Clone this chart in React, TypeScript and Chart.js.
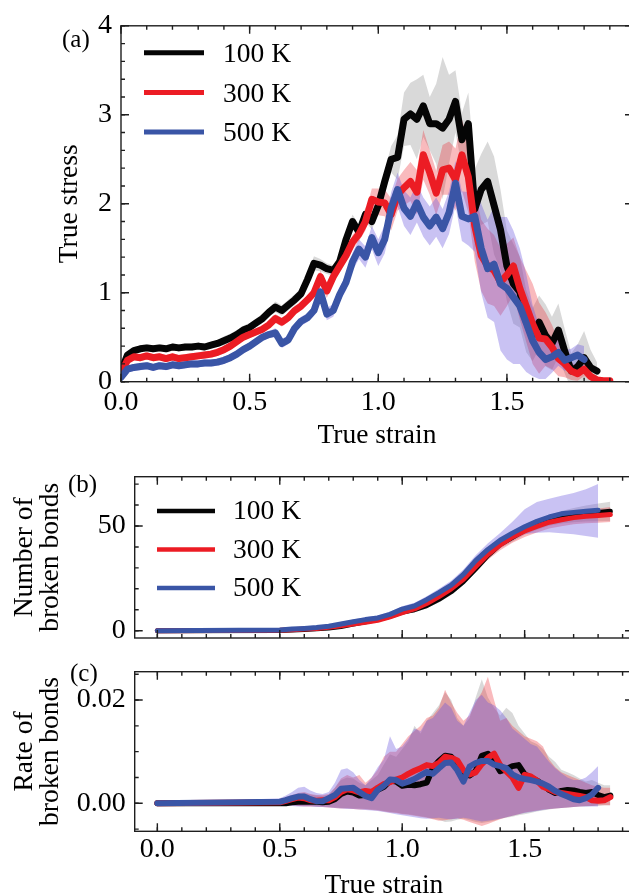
import React, { useEffect, useRef } from 'react';
import { Chart, registerables } from 'chart.js';
Chart.register(...registerables);

// ---------------- data ----------------
const TEMPS = ['100 K', '300 K', '500 K'];
const X_TICKS = [0, 0.5, 1.0, 1.5];
const Y_TICKS_A = [0, 1, 2, 3, 4];
const Y_TICKS_B = [0, 50];
const Y_TICKS_C = [0, 0.02];

// panel (a): true stress vs true strain
const strainA = [
  0, 0.025, 0.05, 0.075, 0.1, 0.125, 0.15, 0.175, 0.2, 0.225,
  0.25, 0.275, 0.3, 0.325, 0.35, 0.375, 0.4, 0.425, 0.45, 0.475,
  0.5, 0.525, 0.55, 0.575, 0.6, 0.625, 0.65, 0.675, 0.7, 0.725,
  0.75, 0.775, 0.8, 0.825, 0.85, 0.875, 0.9, 0.925, 0.95, 0.975,
  1.0, 1.025, 1.05, 1.075, 1.1, 1.125, 1.15, 1.175, 1.2, 1.225,
  1.25, 1.275, 1.3, 1.325, 1.35, 1.375, 1.4, 1.425, 1.45, 1.475,
  1.5, 1.525, 1.55, 1.575, 1.6, 1.625, 1.65, 1.675, 1.7, 1.725,
  1.75, 1.775, 1.8, 1.825, 1.85, 1.875, 1.9,
];
const stress100 = [
  0.12, 0.30, 0.35, 0.37, 0.38, 0.37, 0.38, 0.37, 0.39, 0.38,
  0.39, 0.39, 0.40, 0.39, 0.41, 0.43, 0.46, 0.49, 0.53, 0.58,
  0.61, 0.66, 0.71, 0.78, 0.84, 0.80, 0.86, 0.92, 0.99, 1.15,
  1.33, 1.31, 1.27, 1.25, 1.35, 1.60, 1.80, 1.68, 1.88, 1.80,
  1.98, 2.25, 2.50, 2.52, 2.95, 3.01, 2.95, 3.10, 2.90, 2.90,
  2.85, 2.95, 3.15, 2.72, 2.90, 1.94, 2.16, 2.25, 1.98, 1.71,
  1.30, 1.10, 1.01, 0.68, 0.53, 0.67, 0.52, 0.43, 0.58, 0.34,
  0.12, 0.17, 0.27, 0.16, 0.12, null, null,
];
const stress300 = [
  0.10, 0.24, 0.28, 0.27, 0.29, 0.27, 0.28, 0.26, 0.28, 0.26,
  0.27, 0.28, 0.29, 0.30, 0.31, 0.33, 0.36, 0.40, 0.45, 0.50,
  0.53, 0.56, 0.59, 0.64, 0.71, 0.67, 0.72, 0.80, 0.85, 0.92,
  1.00, 1.18, 1.02, 1.18, 1.30, 1.42, 1.57, 1.66, 1.80, 2.05,
  2.02, 2.01, 1.88, 2.10, 2.18, 2.25, 2.13, 2.55, 2.35, 2.12,
  2.38, 2.40, 2.27, 2.55, 2.30, 1.75, 1.42, 1.30, 1.25, 1.12,
  1.20, 1.30, 1.05, 0.85, 0.65, 0.49, 0.48, 0.39, 0.26, 0.20,
  0.12, 0.09, 0.14, 0.06, 0.02, 0.01, 0.01,
];
const stress500 = [
  0.05, 0.14, 0.16, 0.17, 0.18, 0.16, 0.18, 0.17, 0.19, 0.18,
  0.19, 0.20, 0.20, 0.21, 0.21, 0.22, 0.24, 0.27, 0.31, 0.36,
  0.40, 0.45, 0.50, 0.53, 0.55, 0.43, 0.47, 0.60, 0.68, 0.72,
  0.80, 1.01, 0.76, 0.80, 0.98, 1.12, 1.35, 1.49, 1.40, 1.62,
  1.45, 1.60, 1.95, 2.16, 1.95, 1.86, 2.01, 1.85, 1.75, 1.85,
  1.72, 1.90, 2.23, 1.86, 1.83, 1.86, 1.50, 1.27, 1.32, 1.10,
  1.05, 0.95, 0.85, 0.66, 0.46, 0.33, 0.25, 0.28, 0.33, 0.24,
  0.27, 0.30, 0.25, null, null, null, null,
];
const stressSpread100 = [
  0.02, 0.04, 0.04, 0.04, 0.04, 0.04, 0.04, 0.04, 0.04, 0.04,
  0.04, 0.04, 0.04, 0.04, 0.04, 0.04, 0.05, 0.05, 0.05, 0.05,
  0.05, 0.05, 0.05, 0.05, 0.06, 0.06, 0.06, 0.06, 0.06, 0.07,
  0.08, 0.07, 0.06, 0.06, 0.07, 0.08, 0.08, 0.08, 0.08, 0.09,
  0.10, 0.12, 0.15, 0.25, 0.30, 0.35, 0.45, 0.35, 0.30, 0.45,
  0.80, 0.50, 0.35, 0.30, 0.35, 0.45, 0.40, 0.45, 0.55, 0.45,
  0.40, 0.45, 0.40, 0.35, 0.30, 0.30, 0.35, 0.30, 0.30, 0.25,
  0.20, 0.25, 0.30, 0.20, 0.10, null, null,
];
const stressSpread300 = [
  0.02, 0.04, 0.04, 0.04, 0.04, 0.04, 0.04, 0.04, 0.04, 0.04,
  0.04, 0.04, 0.04, 0.04, 0.04, 0.04, 0.04, 0.04, 0.04, 0.04,
  0.04, 0.04, 0.04, 0.04, 0.05, 0.05, 0.05, 0.05, 0.05, 0.05,
  0.06, 0.07, 0.08, 0.07, 0.07, 0.07, 0.08, 0.08, 0.10, 0.12,
  0.15, 0.15, 0.18, 0.18, 0.20, 0.22, 0.25, 0.28, 0.25, 0.25,
  0.28, 0.30, 0.35, 0.40, 0.40, 0.40, 0.40, 0.42, 0.40, 0.38,
  0.35, 0.32, 0.35, 0.40, 0.45, 0.40, 0.30, 0.25, 0.20, 0.15,
  0.10, 0.08, 0.08, 0.05, 0.03, 0.02, 0.02,
];
const stressSpread500 = [
  0.02, 0.04, 0.04, 0.04, 0.04, 0.04, 0.04, 0.04, 0.04, 0.04,
  0.04, 0.04, 0.04, 0.04, 0.04, 0.04, 0.04, 0.04, 0.04, 0.04,
  0.04, 0.04, 0.04, 0.04, 0.05, 0.05, 0.05, 0.05, 0.05, 0.05,
  0.06, 0.06, 0.07, 0.07, 0.08, 0.09, 0.10, 0.11, 0.12, 0.13,
  0.15, 0.16, 0.18, 0.19, 0.20, 0.21, 0.22, 0.22, 0.22, 0.22,
  0.22, 0.24, 0.25, 0.28, 0.30, 0.40, 0.50, 0.55, 0.65, 0.75,
  0.80, 0.75, 0.65, 0.55, 0.40, 0.30, 0.22, 0.18, 0.15, 0.12,
  0.10, 0.12, 0.15, null, null, null, null,
];

// panel (b): number of broken bonds
const strainB = [
  0,
  0.5, 0.55, 0.6, 0.65, 0.7, 0.75, 0.8, 0.85, 0.9, 0.95,
  1.0, 1.05, 1.1, 1.15, 1.2, 1.25, 1.3, 1.35, 1.4, 1.45,
  1.5, 1.55, 1.6, 1.65, 1.7, 1.75, 1.8, 1.85,
];
const bonds100 = [
  0,
  0.1, 0.3, 0.6, 0.9, 1.3, 2.0, 3.2, 4.3, 5.4, 6.9,
  8.9, 10.0, 12.0, 15.0, 18.6, 23.5, 29.6, 36.0, 41.2, 44.6,
  48.0, 50.6, 52.7, 54.2, 55.2, 56.0, 56.5, 57.0,
];
const bonds300 = [
  0,
  0.2, 0.5, 0.8, 1.1, 1.6, 2.3, 3.2, 4.0, 5.0, 6.6,
  8.6, 10.4, 13.0, 16.3, 20.0, 24.6, 30.5, 36.4, 41.0, 44.8,
  47.6, 49.8, 51.8, 53.0, 54.0, 54.6, 55.0, 55.5,
];
const bonds500 = [
  0,
  0.3, 0.8, 1.1, 1.5, 2.1, 3.2, 4.3, 5.3, 6.1, 7.8,
  10.3, 11.8, 14.8, 18.2, 21.8, 26.9, 33.5, 38.8, 43.2, 46.6,
  49.6, 52.2, 54.3, 55.8, 56.5, 57.0, 57.5, null,
];
const bondsSpread100 = [
  0,
  0.2, 0.3, 0.4, 0.5, 0.6, 0.7, 0.8, 0.9, 1.0, 1.1,
  1.2, 1.3, 1.4, 1.5, 1.6, 1.7, 1.8, 1.9, 2.0, 2.1,
  2.2, 2.4, 2.6, 3.0, 3.4, 3.8, 4.2, 4.6,
];
const bondsSpread300 = [
  0,
  0.2, 0.3, 0.4, 0.5, 0.6, 0.7, 0.8, 0.9, 1.0, 1.1,
  1.2, 1.3, 1.5, 1.7, 1.9, 2.1, 2.3, 2.5, 2.6, 2.8,
  2.8, 2.9, 3.0, 3.1, 3.2, 3.3, 3.4, 3.6,
];
const bondsUp500 = [
  0,
  0.5, 0.6, 0.7, 0.7, 0.8, 0.9, 1.0, 1.1, 1.2, 1.3,
  1.4, 1.5, 1.7, 1.8, 2.0, 2.3, 2.5, 3.0, 3.4, 5.4,
  8.4, 9.3, 8.7, 8.7, 9.3, 10.5, 12.5, null,
];
const bondsDown500 = [
  0,
  0.3, 0.6, 0.7, 0.7, 0.8, 0.9, 1.0, 1.1, 1.2, 1.3,
  1.4, 1.5, 1.7, 1.8, 2.0, 2.3, 2.5, 3.0, 3.4, 3.4,
  3.4, 5.4, 7.3, 9.3, 10.5, 11.8, 13.1, null,
];

// panel (c): rate of broken bonds
const strainC = [
  0,
  0.5, 0.525, 0.55, 0.575, 0.6, 0.625, 0.65, 0.675, 0.7, 0.725,
  0.75, 0.775, 0.8, 0.825, 0.85, 0.875, 0.9, 0.925, 0.95, 0.975,
  1.0, 1.025, 1.05, 1.075, 1.1, 1.125, 1.15, 1.175, 1.2, 1.225,
  1.25, 1.275, 1.3, 1.325, 1.35, 1.375, 1.4, 1.425, 1.45, 1.475,
  1.5, 1.525, 1.55, 1.575, 1.6, 1.625, 1.65, 1.675, 1.7, 1.725,
  1.75, 1.775, 1.8, 1.825, 1.85,
];
const rate100 = [
  0,
  0.0, 0.0, 0.0002, 0.0003, 0.0003, 0.0003, 0.0003, 0.0002, 0.0003, 0.0008,
  0.0018, 0.0023, 0.0021, 0.0015, 0.0016, 0.0020, 0.0026, 0.0032, 0.0044, 0.0042,
  0.0034, 0.0036, 0.0035, 0.0037, 0.0040, 0.0068, 0.0082, 0.0092, 0.0090, 0.0078,
  0.0058, 0.0054, 0.0062, 0.0092, 0.0096, 0.0082, 0.0062, 0.0066, 0.0072, 0.0074,
  0.0056, 0.0050, 0.0044, 0.0036, 0.0026, 0.0020, 0.0024, 0.0026, 0.0025, 0.0022,
  0.0020, 0.0022, 0.0016, 0.0012, 0.0015,
];
const rate300 = [
  0,
  0.0002, 0.0005, 0.0008, 0.0011, 0.0010, 0.0006, 0.0005, 0.0006, 0.0006, 0.0012,
  0.0022, 0.0027, 0.0025, 0.0021, 0.0024, 0.0022, 0.0030, 0.0037, 0.0041, 0.0046,
  0.0050, 0.0057, 0.0063, 0.0068, 0.0074, 0.0072, 0.0078, 0.0090, 0.0088, 0.0083,
  0.0064, 0.0056, 0.0060, 0.0076, 0.0088, 0.0096, 0.0074, 0.0062, 0.0050, 0.0030,
  0.0055, 0.0052, 0.0044, 0.0032, 0.0027, 0.0022, 0.0020, 0.0018, 0.0016, 0.0014,
  0.0012, 0.0006, 0.0005, 0.0006, 0.0012,
];
const rate500 = [
  0,
  0.0003, 0.0006, 0.0010, 0.0013, 0.0013, 0.0008, 0.0004, 0.0004, 0.0010, 0.0016,
  0.0028, 0.0029, 0.0030, 0.0022, 0.0014, 0.0010, 0.0026, 0.0034, 0.0046, 0.0045,
  0.0038, 0.0042, 0.0047, 0.0054, 0.0061, 0.0057, 0.0068, 0.0078, 0.0079, 0.0064,
  0.0042, 0.0071, 0.0078, 0.0082, 0.0082, 0.0075, 0.0072, 0.0068, 0.0056, 0.0050,
  0.0047, 0.0045, 0.0042, 0.0038, 0.0032, 0.0024, 0.0018, 0.0013, 0.0008, 0.0006,
  0.0010, 0.0017, 0.0030, null, null,
];
const rateUpper100 = [
  0,
  0.0008, 0.0010, 0.0014, 0.0018, 0.0020, 0.0017, 0.0015, 0.0014, 0.0016, 0.0030,
  0.0045, 0.0050, 0.0048, 0.0040, 0.0035, 0.0045, 0.0055, 0.0075, 0.0095, 0.0090,
  0.0105, 0.0120, 0.0150, 0.0135, 0.0160, 0.0175, 0.0190, 0.0215, 0.0200, 0.0165,
  0.0150, 0.0165, 0.0205, 0.0240, 0.0205, 0.0185, 0.0170, 0.0185, 0.0175, 0.0150,
  0.0135, 0.0120, 0.0115, 0.0105, 0.0090, 0.0080, 0.0065, 0.0060, 0.0055, 0.0048,
  0.0042, 0.0045, 0.0040, 0.0035, 0.0035,
];
const rateUpper300 = [
  0,
  0.0008, 0.0012, 0.0016, 0.0020, 0.0022, 0.0018, 0.0016, 0.0016, 0.0018, 0.0030,
  0.0048, 0.0055, 0.0050, 0.0055, 0.0040, 0.0050, 0.0065, 0.0090, 0.0100, 0.0100,
  0.0115, 0.0130, 0.0140, 0.0150, 0.0165, 0.0170, 0.0185, 0.0220, 0.0195, 0.0175,
  0.0160, 0.0170, 0.0195, 0.0215, 0.0245, 0.0200, 0.0160, 0.0165, 0.0150, 0.0140,
  0.0130, 0.0125, 0.0120, 0.0110, 0.0085, 0.0070, 0.0060, 0.0055, 0.0050, 0.0045,
  0.0040, 0.0035, 0.0032, 0.0030, 0.0030,
];
const rateUpper500 = [
  0,
  0.0010, 0.0015, 0.0022, 0.0030, 0.0032, 0.0025, 0.0020, 0.0018, 0.0022, 0.0040,
  0.0065, 0.0068, 0.0060, 0.0045, 0.0035, 0.0050, 0.0070, 0.0085, 0.0130, 0.0105,
  0.0110, 0.0125, 0.0145, 0.0140, 0.0160, 0.0165, 0.0180, 0.0195, 0.0185, 0.0160,
  0.0150, 0.0175, 0.0200, 0.0210, 0.0195, 0.0190, 0.0180, 0.0165, 0.0145, 0.0135,
  0.0125, 0.0115, 0.0110, 0.0095, 0.0080, 0.0068, 0.0058, 0.0050, 0.0045, 0.0045,
  0.0050, 0.0060, 0.0072, null, null,
];
const rateLower100 = [
  0,
  -0.0002, -0.0003, -0.0004, -0.0005, -0.0005, -0.0005, -0.0006, -0.0006, -0.0007, -0.0008,
  -0.0009, -0.0009, -0.0010, -0.0010, -0.0011, -0.0012, -0.0013, -0.0015, -0.0017, -0.0018,
  -0.0020, -0.0021, -0.0023, -0.0025, -0.0027, -0.0030, -0.0032, -0.0036, -0.0035, -0.0032,
  -0.0030, -0.0033, -0.0036, -0.0038, -0.0036, -0.0034, -0.0030, -0.0028, -0.0026, -0.0023,
  -0.0021, -0.0019, -0.0016, -0.0014, -0.0012, -0.0010, -0.0009, -0.0008, -0.0007, -0.0006,
  -0.0006, -0.0005, -0.0005, -0.0004, -0.0004,
];
const rateLower300 = [
  0,
  -0.0002, -0.0003, -0.0004, -0.0005, -0.0006, -0.0006, -0.0006, -0.0007, -0.0008, -0.0009,
  -0.0010, -0.0010, -0.0011, -0.0012, -0.0012, -0.0013, -0.0014, -0.0016, -0.0018, -0.0019,
  -0.0021, -0.0022, -0.0024, -0.0026, -0.0028, -0.0031, -0.0034, -0.0033, -0.0031, -0.0029,
  -0.0032, -0.0036, -0.0040, -0.0044, -0.0040, -0.0035, -0.0031, -0.0027, -0.0024, -0.0021,
  -0.0018, -0.0016, -0.0014, -0.0012, -0.0011, -0.0010, -0.0009, -0.0008, -0.0007, -0.0006,
  -0.0005, -0.0005, -0.0004, -0.0004, -0.0004,
];
const rateLower500 = [
  0,
  -0.0002, -0.0003, -0.0005, -0.0006, -0.0006, -0.0006, -0.0007, -0.0007, -0.0008, -0.0009,
  -0.0010, -0.0011, -0.0011, -0.0012, -0.0013, -0.0014, -0.0015, -0.0017, -0.0019, -0.0021,
  -0.0023, -0.0025, -0.0027, -0.0029, -0.0030, -0.0029, -0.0028, -0.0030, -0.0031, -0.0030,
  -0.0028, -0.0030, -0.0033, -0.0035, -0.0034, -0.0032, -0.0030, -0.0027, -0.0024, -0.0021,
  -0.0019, -0.0017, -0.0015, -0.0013, -0.0011, -0.0010, -0.0009, -0.0008, -0.0007, -0.0006,
  -0.0006, -0.0006, -0.0006, null, null,
];

// ---------------- styling ----------------
const FONT = "'Liberation Serif', 'Times New Roman', serif";
const TICK_SIZE = 28;
const TEXT_SIZE = 27.5;
const LINE_COLORS = ['#050505', '#ec1c24', '#3a55a6'];
const BAND_COLORS = ['rgba(0,0,0,0.15)', 'rgba(236,28,36,0.3)', 'rgba(100,80,220,0.35)'];
const CW = 640;
const CH = 920;

type Num = number | null;

function pts(xs: number[], ys: Num[]) {
  return xs.map((x, i) => ({ x, y: ys[i] == null ? null : (ys[i] as number) }));
}
function shift(m: Num[], off: Num[], sign: number): Num[] {
  return m.map((v, i) => (v == null || off[i] == null ? null : (v as number) + sign * (off[i] as number)));
}

function bandSets(xs: number[], lower: Num[], upper: Num[], k: number) {
  return [
    { data: pts(xs, lower), borderColor: 'rgba(0,0,0,0)', borderWidth: 0, pointRadius: 0, fill: false, order: 12 - k },
    { data: pts(xs, upper), borderColor: 'rgba(0,0,0,0)', borderWidth: 0, pointRadius: 0, fill: '-1', backgroundColor: BAND_COLORS[k], order: 12 - k },
  ];
}
function lineSet(xs: number[], ys: Num[], k: number, width: number) {
  return {
    label: TEMPS[k],
    isMean: true,
    data: pts(xs, ys),
    borderColor: LINE_COLORS[k],
    borderWidth: width,
    pointRadius: 0,
    fill: false,
    order: 2 - k,
    borderJoinStyle: 'round',
    borderCapStyle: 'round',
  };
}

function minorValues(min: number, max: number, step: number) {
  const out: number[] = [];
  let v = Math.ceil(min / step - 1e-9) * step;
  while (v <= max + 1e-12) { out.push(v); v += step; }
  return out;
}

const decorPlugin = {
  id: 'decor',
  afterDatasetsDraw(chart: any, _args: any, opts: any) {
    const { ctx, chartArea: a, scales } = chart;
    const xs = scales.x, ys = scales.y;
    ctx.save();
    ctx.strokeStyle = '#1e1e1e';
    ctx.lineWidth = 1.4;
    const xTick = (v: number, len: number) => {
      const p = xs.getPixelForValue(v);
      if (p < a.left - 0.5 || p > a.right + 0.5) return;
      ctx.beginPath();
      ctx.moveTo(p, a.bottom); ctx.lineTo(p, a.bottom - len);
      ctx.moveTo(p, a.top); ctx.lineTo(p, a.top + len);
      ctx.stroke();
    };
    const yTick = (v: number, len: number) => {
      const p = ys.getPixelForValue(v);
      if (p < a.top - 0.5 || p > a.bottom + 0.5) return;
      ctx.beginPath();
      ctx.moveTo(a.left, p); ctx.lineTo(a.left + len, p);
      ctx.moveTo(a.right, p); ctx.lineTo(a.right - len, p);
      ctx.stroke();
    };
    minorValues(xs.min, xs.max, opts.minorX).forEach((v) => xTick(v, 4));
    minorValues(ys.min, ys.max, opts.minorY).forEach((v) => yTick(v, 4));
    xs.ticks.forEach((t: any) => xTick(t.value, 8));
    ys.ticks.forEach((t: any) => yTick(t.value, 8));
    ctx.strokeRect(a.left, a.top, a.right - a.left, a.bottom - a.top);

    ctx.fillStyle = '#000';
    ctx.textBaseline = 'middle';
    ctx.textAlign = 'left';
    ctx.font = `25px ${FONT}`;
    ctx.fillText(opts.label, opts.labelX, opts.labelY);

    if (opts.legend) {
      const L = opts.legend;
      ctx.font = `${TEXT_SIZE}px ${FONT}`;
      const means = chart.data.datasets.filter((d: any) => d.isMean);
      means.forEach((d: any, i: number) => {
        const y = L.y0 + i * L.dy;
        ctx.strokeStyle = d.borderColor;
        ctx.lineWidth = L.lw;
        ctx.lineCap = 'butt';
        ctx.beginPath();
        ctx.moveTo(L.x0, y); ctx.lineTo(L.x1, y);
        ctx.stroke();
        ctx.fillStyle = '#000';
        ctx.fillText(d.label, L.tx, y + L.ty);
      });
    }
    ctx.restore();
  },
};

function axisX(min: number, max: number, height: number, showLabels: boolean, labelPad: number) {
  return {
    type: 'linear',
    min,
    max,
    afterBuildTicks: (s: any) => { s.ticks = X_TICKS.map((v) => ({ value: v })); },
    afterFit: (s: any) => { s.height = height; },
    grid: { display: false, drawTicks: false },
    border: { display: false },
    ticks: {
      display: showLabels,
      font: { family: FONT, size: TICK_SIZE },
      color: '#000',
      padding: labelPad,
      maxRotation: 0,
      autoSkip: false,
      callback: (v: any) => Number(v).toFixed(1),
    },
    title: {
      display: showLabels,
      text: 'True strain',
      font: { family: FONT, size: TEXT_SIZE, lineHeight: 1.2 },
      color: '#000',
      padding: 0,
    },
  };
}

function axisY(min: number, max: number, ticks: number[], digits: number, width: number, title: any, titleLH: number, titlePad: number) {
  return {
    type: 'linear',
    min,
    max,
    afterBuildTicks: (s: any) => { s.ticks = ticks.map((v) => ({ value: v })); },
    afterFit: (s: any) => { s.width = width; },
    grid: { display: false, drawTicks: false },
    border: { display: false },
    ticks: {
      font: { family: FONT, size: TICK_SIZE },
      color: '#000',
      padding: 9,
      autoSkip: false,
      callback: (v: any) => Number(v).toFixed(digits),
    },
    title: {
      display: true,
      text: title,
      font: { family: FONT, size: TEXT_SIZE, lineHeight: titleLH },
      color: '#000',
      padding: { top: titlePad, bottom: 0 },
    },
  };
}

function baseOptions(padding: any, scales: any, decor: any) {
  return {
    animation: false,
    responsive: false,
    devicePixelRatio: 1,
    events: [],
    layout: { padding },
    plugins: { legend: { display: false }, tooltip: { enabled: false }, decor },
    scales,
  };
}

function makeA() {
  const means = [stress100, stress300, stress500];
  const spreads = [stressSpread100, stressSpread300, stressSpread500];
  const datasets: any[] = [];
  [0, 1, 2].forEach((k) => {
    datasets.push(...bandSets(strainA, shift(means[k], spreads[k], -1), shift(means[k], spreads[k], 1), k));
  });
  [0, 1, 2].forEach((k) => datasets.push(lineSet(strainA, means[k], k, 7)));
  return {
    type: 'line',
    data: { datasets },
    options: baseOptions(
      { left: 0, top: 20, right: CW - 633, bottom: CH - 381.7 - 71 },
      { x: axisX(0, 1.99, 71, true, 4), y: axisY(0, 4, Y_TICKS_A, 0, 121, 'True stress', 1.2, 53.5) },
      { minorX: 0.1, minorY: 0.2, label: '(a)', labelX: 62, labelY: 40,
        legend: { x0: 144, x1: 204, tx: 223, y0: 52.7, dy: 39.7, lw: 5, ty: 2 } },
    ),
    plugins: [decorPlugin],
  };
}

function makeB() {
  const means = [bonds100, bonds300, bonds500];
  const ups = [bondsSpread100, bondsSpread300, bondsUp500];
  const downs = [bondsSpread100, bondsSpread300, bondsDown500];
  const datasets: any[] = [];
  [0, 1, 2].forEach((k) => {
    datasets.push(...bandSets(strainB, shift(means[k], downs[k], -1), shift(means[k], ups[k], 1), k));
  });
  [0, 1, 2].forEach((k) => datasets.push(lineSet(strainB, means[k], k, 5)));
  return {
    type: 'line',
    data: { datasets },
    options: baseOptions(
      { left: 0, top: 476.7, right: CW - 633, bottom: CH - 638 },
      { x: axisX(-0.0925, 1.9425, 0, false, 0), y: axisY(-3.49, 73.54, Y_TICKS_B, 0, 134.7, ['Number of', 'broken bonds'], 0.95, 11.9) },
      { minorX: 0.1, minorY: 10, label: '(b)', labelX: 68, labelY: 485,
        legend: { x0: 157, x1: 215, tx: 233, y0: 511, dy: 38.5, lw: 4.5, ty: 1 } },
    ),
    plugins: [decorPlugin],
  };
}

function makeC() {
  const means = [rate100, rate300, rate500];
  const uppers = [rateUpper100, rateUpper300, rateUpper500];
  const lowers = [rateLower100, rateLower300, rateLower500];
  const datasets: any[] = [];
  [0, 1, 2].forEach((k) => datasets.push(...bandSets(strainC, lowers[k], uppers[k], k)));
  [0, 1, 2].forEach((k) => datasets.push(lineSet(strainC, means[k], k, 6)));
  return {
    type: 'line',
    data: { datasets },
    options: baseOptions(
      { left: 0, top: 671.7, right: CW - 633, bottom: CH - 831.3 - 71 },
      { x: axisX(-0.0925, 1.9425, 71, true, 2), y: axisY(-0.00542, 0.02548, Y_TICKS_C, 2, 134.7, ['Rate of', 'broken bonds'], 0.95, 11.9) },
      { minorX: 0.1, minorY: 0.005, label: '(c)', labelX: 70, labelY: 674 },
    ),
    plugins: [decorPlugin],
  };
}

function Panel({ make }: { make: () => any }) {
  const ref = useRef<HTMLCanvasElement | null>(null);
  useEffect(() => {
    const chart = new Chart(ref.current as HTMLCanvasElement, make());
    return () => chart.destroy();
  }, [make]);
  return (
    <canvas
      ref={ref}
      width={CW}
      height={CH}
      style={{ position: 'absolute', left: 0, top: 0, width: CW, height: CH }}
    />
  );
}

export default function App() {
  return (
    <div style={{ position: 'absolute', left: 0, top: 0, width: 629, height: 895, overflow: 'hidden', background: '#fff' }}>
      <Panel make={makeA} />
      <Panel make={makeB} />
      <Panel make={makeC} />
    </div>
  );
}
